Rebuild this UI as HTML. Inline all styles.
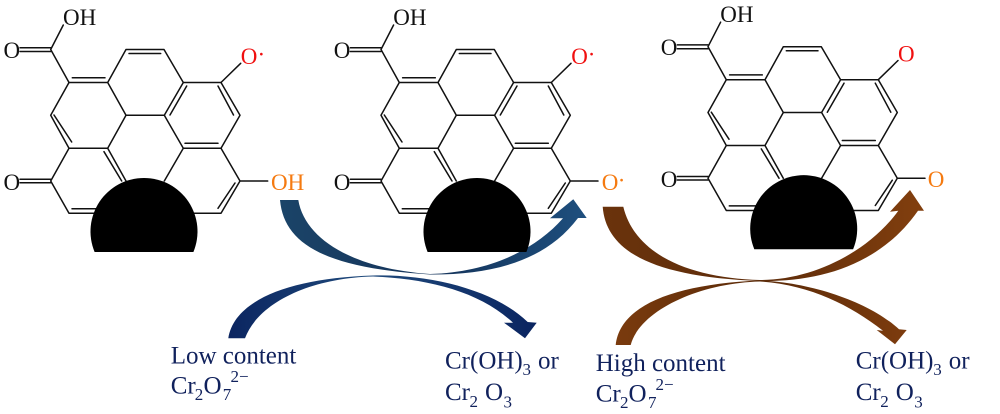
<!DOCTYPE html>
<html><head><meta charset="utf-8"><style>
html,body{margin:0;padding:0;background:#fff;width:1000px;height:414px;overflow:hidden}
svg{display:block}
text{font-family:"Liberation Serif",serif}
.k{font-size:23px;fill:#111}
.r{font-size:23px;fill:#f01010}
.o{font-size:23px;fill:#f57a10}
.n{font-size:25px;fill:#10215c}
.s{font-size:17px;fill:#10215c}
</style></head><body>
<svg width="1000" height="414" viewBox="0 0 1000 414" xmlns="http://www.w3.org/2000/svg">
<defs>
<linearGradient id="b1" x1="0" x2="1" y1="0" y2="0"><stop offset="0" stop-color="#1b4468"/><stop offset=".5" stop-color="#14335a"/><stop offset="1" stop-color="#1e4f7e"/></linearGradient>
<linearGradient id="b2" x1="0" x2="1" y1="0" y2="0"><stop offset="0" stop-color="#0b2560"/><stop offset=".45" stop-color="#1f4a7c"/><stop offset="1" stop-color="#0a2460"/></linearGradient>
<linearGradient id="c1" x1="0" x2="1" y1="0" y2="0"><stop offset="0" stop-color="#6a330c"/><stop offset=".5" stop-color="#5e2c0a"/><stop offset="1" stop-color="#823f0e"/></linearGradient>
<linearGradient id="c2" x1="0" x2="1" y1="0" y2="0"><stop offset="0" stop-color="#7a3b0e"/><stop offset=".5" stop-color="#5a2a08"/><stop offset="1" stop-color="#7d3c0e"/></linearGradient>
<g id="sk" fill="none" stroke="#111" stroke-width="1.5" stroke-linecap="round" stroke-linejoin="round">
<path d="M63.3 25L50.7 49.5L69 82.5H107.7L126 49.5H164L183.3 82.5H221L240 115.3L221 148.3H183.3L164.3 115.3H126L107.7 82.5"/>
<path d="M183.3 82.5L164.3 115.3M126 115.3L107.7 148.3H69L50.7 115.3L69 82.5M69 148.3L50.7 181L69 213.3H107.7M107.7 148.3L126 181M183.3 148.3L164.3 181M221 148.3L240 181L221 213.3H183M240 181H267.7M221 82.5L240.7 63.3"/>
<path d="M20 47.7H50.7M20 51.5H50.7M20 179.3H50.7M20 182.8H50.7"/>
<path d="M72.3 77.7H105M129 53.5H160.7M186.7 86L170 115M218 86L233.5 115M185 143.3H218M54 115L71.7 142M104 151.7L121.7 181M235 183L218 208.3M72 208.7H100"/>
</g>
</defs>

<path fill="url(#b1)" d="M280 200C284 244 325 268 430 274.5C490 275 545 262 578 218L586.7 218L573.3 199.3L550 218.3L563 218.3C535 250 490 272 430 274C355 269 305 240 298.3 200Z"/>
<path fill="url(#b2)" d="M228.3 338.3C234 300 290 278 373 275.5C430 274 495 290 527.7 322L536.7 322.7L525 338.3L504 322.7L513 322.7C480 292 430 279 373 276.5C310 278 258 303 245 338.3Z"/>
<path fill="url(#c1)" d="M602.7 206.7C606 250 650 277 760 281C820 282 880 265 918 210.7L924 210.7L910 190L890 211.7L898.3 210.7C870 250 815 280 760 280C690 278 635 255 623.3 206.7Z"/>
<path fill="url(#c2)" d="M615.7 345C620 305 675 284 760 280.5C810 282 870 302 899 329.3L906.7 330L895 344.3L876.7 330L883 330.7C850 305 810 285 760 281.5C700 283 640 310 630.7 345Z"/>

<g>
<use href="#sk"/>
<path d="M94.6 252A53.5 53.5 0 1 1 193.4 252Z" fill="#000"/>
<text class="k" x="63" y="25">OH</text>
<text class="k" x="3.5" y="58">O</text>
<text class="k" x="3.5" y="190">O</text>
<text class="r" x="240.7" y="64">O</text><text class="r" x="257.5" y="62">·</text>
<text class="o" x="271" y="190">OH</text>
</g>

<g transform="translate(330.3,0)">
<use href="#sk"/>
<path d="M97.3 252A53.5 53.5 0 1 1 196.1 252Z" fill="#000"/>
<text class="k" x="63" y="25">OH</text>
<text class="k" x="3.5" y="58">O</text>
<text class="k" x="3.5" y="190">O</text>
<text class="r" x="241" y="64">O</text><text class="r" x="257.5" y="62">·</text>
<text class="o" x="271.4" y="190">O</text><text class="o" x="287.5" y="188">·</text>
</g>

<g transform="translate(657.3,-2.8)">
<use href="#sk"/>
<path d="M97 252A53.5 53.5 0 1 1 195.8 252Z" fill="#000"/>
<text class="k" x="63" y="25">OH</text>
<text class="k" x="3.5" y="58">O</text>
<text class="k" x="3.5" y="190">O</text>
<text class="r" x="240.7" y="64.5">O</text>
<text class="o" x="270.4" y="190">O</text>
</g>

<text class="n" x="170.7" y="363.3">Low content</text>
<text class="n" x="170.7" y="393.3">Cr</text><text class="s" x="194.7" y="400">2</text><text class="n" x="203.5" y="393.3">O</text><text class="s" x="222.8" y="400">7</text><text class="s" x="230.5" y="382">2−</text>

<text class="n" x="445" y="368.5">Cr(OH)</text><text class="s" x="522.5" y="375">3</text><text class="n" x="538" y="368.5">or</text>
<text class="n" x="445" y="400">Cr</text><text class="s" x="469.5" y="407">2</text><text class="n" x="485" y="400">O</text><text class="s" x="503.5" y="407.5">3</text>

<text class="n" x="595.7" y="371">High content</text>
<text class="n" x="595.7" y="401.7">Cr</text><text class="s" x="620" y="408">2</text><text class="n" x="628.5" y="401.7">O</text><text class="s" x="648" y="408">7</text><text class="s" x="655.5" y="390">2−</text>

<text class="n" x="855.7" y="368.5">Cr(OH)</text><text class="s" x="933.2" y="375">3</text><text class="n" x="948.7" y="368.5">or</text>
<text class="n" x="855.7" y="400">Cr</text><text class="s" x="880.2" y="407">2</text><text class="n" x="895.7" y="400">O</text><text class="s" x="914.2" y="407.5">3</text>
</svg>
</body></html>
